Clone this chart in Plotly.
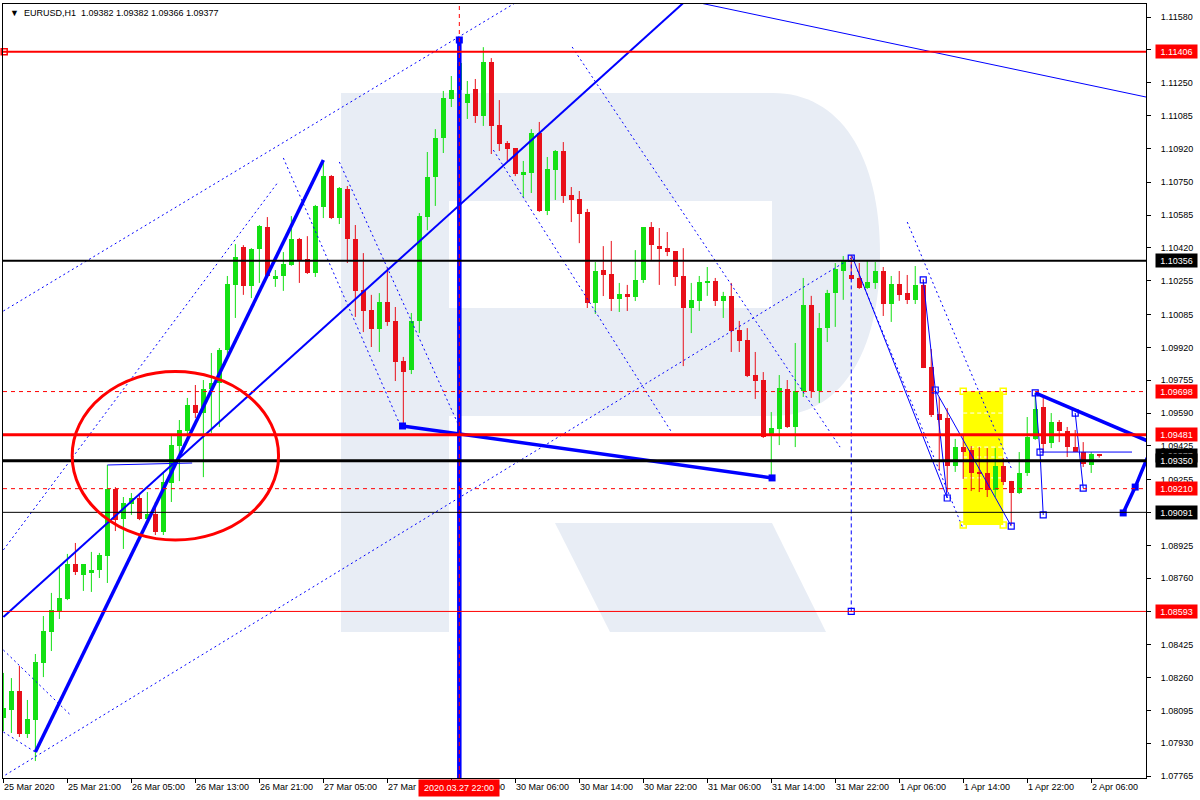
import plotly.graph_objects as go

# ---------------- data (EURUSD H1) ----------------
opens = [1.08057,1.08098,1.08193,1.07977,1.08047,1.08334,1.08490,1.08595,1.08655,1.08831,
         1.08776,1.08786,1.08801,1.08872,1.09208,1.09057,1.09133,1.09163,1.09057,1.09083,
         1.08992,1.09238,1.09424,1.09500,1.09630,1.09590,1.09711,1.09741,1.09907,1.10234,
         1.10424,1.10229,1.10414,1.10525,1.10264,1.10279,1.10334,1.10465,1.10364,1.10294,
         1.10626,1.10781,1.10570,1.10716,1.10465,1.10209,1.10108,1.10012,1.10148,1.10053,
         1.09852,1.09806,1.10053,1.10575,1.10776,1.10972,1.11168,1.11214,1.11148,1.11219,
         1.11083,1.11354,1.11038,1.10947,1.10922,1.10791,1.10796,1.10997,1.10606,1.10811,
         1.10907,1.10686,1.10666,1.10601,1.10143,1.10309,1.10289,1.10163,1.10188,1.10173,
         1.10259,1.10525,1.10429,1.10419,1.10404,1.10279,1.10118,1.10154,1.10244,1.10254,
         1.10154,1.10179,1.10007,1.09957,1.09781,1.09756,1.09485,1.09510,1.09711,1.09520,
         1.09701,1.10133,1.09701,1.10017,1.10194,1.10304,1.10284,1.10269,1.10219,1.10244,
         1.10304,1.10138,1.10239,1.10194,1.10159,1.10234,1.09822,1.09585,1.09565,1.09324,
         1.09419,1.09404,1.09294,1.09289,1.09203,1.09324,1.09249,1.09188,1.09289,1.09460,
         1.09620,1.09439,1.09545,1.09500,1.09419,1.09394,1.09329,1.09382]
highs = [1.08284,1.08258,1.08319,1.08148,1.08379,1.08570,1.08686,1.08816,1.08882,1.08937,
         1.08831,1.08892,1.08887,1.09329,1.09218,1.09168,1.09188,1.09178,1.09193,1.09143,
         1.09288,1.09479,1.09555,1.09666,1.09731,1.09756,1.09892,1.09917,1.10279,1.10439,
         1.10434,1.10419,1.10535,1.10575,1.10309,1.10399,1.10580,1.10470,1.10479,1.10636,
         1.10852,1.10786,1.10726,1.10731,1.10535,1.10394,1.10184,1.10193,1.10319,1.10123,
         1.09872,1.10093,1.10595,1.10902,1.11017,1.11209,1.11284,1.11465,1.11259,1.11269,
         1.11429,1.11374,1.11163,1.10957,1.10922,1.10857,1.11017,1.11053,1.10877,1.10912,
         1.10952,1.10726,1.10706,1.10616,1.10349,1.10429,1.10455,1.10244,1.10234,1.10409,
         1.10525,1.10550,1.10520,1.10500,1.10404,1.10419,1.10244,1.10279,1.10324,1.10269,
         1.10199,1.10244,1.10053,1.10017,1.09897,1.09796,1.09595,1.09781,1.09756,1.09942,
         1.10269,1.10179,1.10093,1.10209,1.10344,1.10379,1.10384,1.10344,1.10359,1.10349,
         1.10324,1.10279,1.10304,1.10284,1.10329,1.10264,1.09912,1.09671,1.09615,1.09460,
         1.09475,1.09424,1.09419,1.09414,1.09414,1.09364,1.09249,1.09394,1.09570,1.09691,
         1.09666,1.09590,1.09555,1.09520,1.09505,1.09444,1.09394,1.09382]
lows = [1.07992,1.07982,1.07962,1.07957,1.07841,1.08263,1.08394,1.08555,1.08650,1.08776,
        1.08696,1.08691,1.08761,1.08736,1.08997,1.08907,1.09078,1.09052,1.09052,1.08977,
        1.08977,1.09143,1.09248,1.09455,1.09565,1.09268,1.09490,1.09520,1.09882,1.10068,
        1.10184,1.10168,1.10244,1.10274,1.10224,1.10204,1.10330,1.10244,1.10289,1.10274,
        1.10570,1.10565,1.10540,1.10344,1.10073,1.09997,1.09922,1.09897,1.10028,1.09751,
        1.09520,1.09786,1.09992,1.10509,1.10631,1.10897,1.11128,1.11163,1.11068,1.11048,
        1.11033,1.10892,1.10907,1.10852,1.10781,1.10676,1.10696,1.10601,1.10585,1.10661,
        1.10646,1.10550,1.10444,1.10118,1.10088,1.10178,1.10103,1.10098,1.10103,1.10153,
        1.10244,1.10359,1.10234,1.10379,1.10229,1.09826,1.09992,1.10103,1.10179,1.10128,
        1.10068,1.09897,1.09897,1.09771,1.09661,1.09465,1.09254,1.09429,1.09515,1.09419,
        1.09671,1.09666,1.09641,1.09947,1.10023,1.10159,1.10259,1.10214,1.10214,1.10214,
        1.10078,1.10048,1.10154,1.10138,1.10138,1.09816,1.09570,1.09304,1.09193,1.09294,
        1.09259,1.09198,1.09193,1.09168,1.09168,1.09228,1.09027,1.09183,1.09274,1.09455,
        1.09389,1.09414,1.09444,1.09369,1.09394,1.09319,1.09289,1.09366]
closes = [1.08108,1.08193,1.07977,1.08052,1.08339,1.08495,1.08600,1.08660,1.08831,1.08791,
          1.08831,1.08801,1.08877,1.09208,1.09052,1.09138,1.09163,1.09057,1.09083,1.08992,
          1.09243,1.09429,1.09505,1.09630,1.09590,1.09711,1.09741,1.09907,1.10239,1.10374,
          1.10229,1.10414,1.10530,1.10279,1.10279,1.10339,1.10465,1.10359,1.10294,1.10631,
          1.10781,1.10570,1.10721,1.10465,1.10204,1.10103,1.10012,1.10148,1.10048,1.09847,
          1.09796,1.10053,1.10580,1.10776,1.10972,1.11173,1.11214,1.11349,1.11194,1.11083,
          1.11354,1.11033,1.10942,1.10917,1.10791,1.10801,1.10997,1.10606,1.10816,1.10907,
          1.10681,1.10661,1.10590,1.10143,1.10304,1.10284,1.10163,1.10188,1.10173,1.10259,
          1.10525,1.10434,1.10419,1.10399,1.10274,1.10118,1.10159,1.10249,1.10254,1.10154,
          1.10179,1.10002,1.09952,1.09776,1.09751,1.09470,1.09515,1.09716,1.09520,1.09701,
          1.10133,1.09701,1.10017,1.10194,1.10314,1.10354,1.10264,1.10219,1.10249,1.10304,
          1.10138,1.10239,1.10184,1.10159,1.10234,1.09817,1.09580,1.09555,1.09324,1.09419,
          1.09394,1.09289,1.09284,1.09203,1.09324,1.09243,1.09188,1.09289,1.09470,1.09610,
          1.09434,1.09545,1.09500,1.09419,1.09394,1.09334,1.09384,1.09377]

tick_idx = [0, 8, 16, 24, 32, 40, 48, 56, 64, 72, 80, 88, 96, 104, 112, 120, 128, 136]
tick_text = ["25 Mar 2020", "25 Mar 21:00", "26 Mar 05:00", "26 Mar 13:00", "26 Mar 21:00",
             "27 Mar 05:00", "27 Mar 13:00", "27 Mar 21:00", "30 Mar 06:00", "30 Mar 14:00",
             "30 Mar 22:00", "31 Mar 06:00", "31 Mar 14:00", "31 Mar 22:00", "1 Apr 06:00",
             "1 Apr 14:00", "1 Apr 22:00", "2 Apr 06:00"]
ytick_vals = [1.11580, 1.11415, 1.11250, 1.11085, 1.10920, 1.10750, 1.10585, 1.10420, 1.10255,
              1.10085, 1.09920, 1.09755, 1.09590, 1.09425, 1.09255, 1.09090, 1.08925, 1.08760,
              1.08595, 1.08425, 1.08260, 1.08095, 1.07930, 1.07765]

# horizontal levels: price, colour, width, dash
level_prices = [1.11406, 1.10356, 1.09698, 1.09481, 1.09350, 1.09210, 1.09091, 1.08593]
level_colors = ["#ff0000", "#000000", "#ff0000", "#ff0000", "#000000", "#ff0000", "#000000", "#ff0000"]
level_widths = [2, 2, 1, 3, 3, 1, 1, 1]
level_dashes = ["solid", "solid", "4px,4px", "solid", "solid", "4px,4px", "solid", "solid"]

tag_prices = [1.11406, 1.10356, 1.09698, 1.09481, 1.09377, 1.09350, 1.09210, 1.09091, 1.08593]
tag_colors = ["#ff0000", "#000000", "#ff0000", "#ff0000", "#000000", "#000000", "#ff0000", "#000000", "#ff0000"]

# drawing objects (bar index, price)
thick_lines = [([4.0, 40.0], [1.07886, 1.10862]),
               ([49.9, 96.1], [1.09525, 1.09264]),
               ([129.0, 143.4], [1.09691, 1.09444]),
               ([140.0, 141.5, 143.0, 143.6], [1.09088, 1.09218, 1.09364, 1.09254])]
medium_lines = [([0.0, 85.0], [1.08565, 1.11651])]
thin_lines = [([87.1, 142.9], [1.11651, 1.11178]),
              ([13.0, 23.6], [1.09329, 1.09339]),
              ([106.1, 118.0], [1.10379, 1.09163]),
              ([115.0, 116.5, 118.0], [1.10259, 1.09706, 1.09163]),
              ([116.5, 126.0], [1.09706, 1.09022]),
              ([129.0, 129.6, 130.0], [1.09691, 1.09394, 1.09078]),
              ([129.6, 141.1], [1.09394, 1.09394]),
              ([134.0, 135.0], [1.09590, 1.09213])]
dotted_lines = [([0.0, 64.6], [1.10103, 1.11666]),
                ([0.25, 106.0], [1.07771, 1.10369]),
                ([0.0, 34.25], [1.08902, 1.10746]),
                ([35.0, 49.6], [1.10872, 1.09530]),
                ([42.0, 56.9], [1.10852, 1.09530]),
                ([71.1, 104.6], [1.11430, 1.09419]),
                ([61.25, 83.6], [1.10912, 1.09490]),
                ([113.0, 126.1], [1.10550, 1.09304]),
                ([106.75, 119.9], [1.10309, 1.09017]),
                ([0.0, 8.4], [1.08399, 1.08072]),
                ([0.0, 4.0], [1.07987, 1.07886])]
open_sq_x = [106.0, 106.0, 115.0, 116.5, 118.0, 126.0, 129.0, 130.0, 134.0, 135.0, 129.6]
open_sq_y = [1.10369, 1.08593, 1.10259, 1.09706, 1.09163, 1.09022, 1.09691, 1.09078, 1.09590, 1.09213, 1.09394]
full_sq_x = [49.9, 57.0, 96.1, 140.0, 141.5, 143.0]
full_sq_y = [1.09525, 1.11465, 1.09264, 1.09088, 1.09218, 1.09364]
rect_x = [120.0, 125.0]
rect_y = [1.09027, 1.09700]
rect_inner_levels = [1.09590, 1.09419, 1.09369, 1.09264]
ellipse_x = [8.6, 34.4]
ellipse_y = [1.08952, 1.09799]
vline_idx = 57
vline_top = 1.11465
dvline_idx = 106
dvline_y = [1.08593, 1.10356]

title_text = "\u25BC\u00a0 EURUSD,H1\u00a0 1.09382 1.09382 1.09366 1.09377"

# ---------------- figure ----------------
GREEN = "#14e014"
RED = "#e8101a"
BLUE = "#0000ff"
FONT = "Liberation Sans"
X_RANGE = [-0.05, 142.85]
Y_RANGE = [1.077558, 1.116459]

n = len(opens)
idx = list(range(n))
fig = go.Figure()

# plot box in pixels: x 3..1146, y 4..778
def px(x):
    return (x - 3) / 1143.0

def py(y):
    return (778 - y) / 774.0

shapes = []
WM = "#e8edf5"
# watermark "R"
shapes.append(dict(type="rect", xref="paper", yref="paper", x0=px(341), x1=px(449), y0=py(632), y1=py(93),
                   fillcolor=WM, line=dict(width=0), layer="below"))
k = 0.62
bowl = (f"M {px(449)},{py(93)} L {px(773)},{py(93)} "
        f"C {px(773 + k*107)},{py(93)} {px(880)},{py(254.5 - k*161.5)} {px(880)},{py(254.5)} "
        f"C {px(880)},{py(254.5 + k*161.5)} {px(773 + k*107)},{py(416)} {px(773)},{py(416)} "
        f"L {px(449)},{py(416)} Z")
shapes.append(dict(type="path", xref="paper", yref="paper", path=bowl, fillcolor=WM,
                   line=dict(width=0), layer="below"))
shapes.append(dict(type="rect", xref="paper", yref="paper", x0=px(449), x1=px(772), y0=py(308), y1=py(201),
                   fillcolor="#ffffff", line=dict(width=0), layer="below"))
leg = f"M {px(555)},{py(523)} L {px(772)},{py(523)} L {px(826)},{py(632)} L {px(610)},{py(632)} Z"
shapes.append(dict(type="path", xref="paper", yref="paper", path=leg, fillcolor=WM,
                   line=dict(width=0), layer="below"))
# yellow rectangle
shapes.append(dict(type="rect", xref="x", yref="y", x0=rect_x[0], x1=rect_x[1], y0=rect_y[0], y1=rect_y[1],
                   fillcolor="#ffff00", line=dict(width=0), layer="below"))
for lv in rect_inner_levels:
    shapes.append(dict(type="line", xref="x", yref="y", x0=rect_x[0], x1=rect_x[1], y0=lv, y1=lv,
                       line=dict(color="#ffffff", width=1, dash="4px,3px"), layer="below"))

# wicks
for col, cond in ((GREEN, lambda i: closes[i] >= opens[i]), (RED, lambda i: closes[i] < opens[i])):
    xs, ys = [], []
    for i in idx:
        if cond(i):
            xs += [i, i, None]
            ys += [lows[i], highs[i], None]
    fig.add_trace(go.Scatter(x=xs, y=ys, mode="lines", line=dict(color=col, width=1),
                             hoverinfo="skip", showlegend=False))
# bodies
fig.add_trace(go.Bar(x=idx, y=[max(abs(c - o), 0.00003) for o, c in zip(opens, closes)],
                     base=[min(o, c) for o, c in zip(opens, closes)], width=0.62,
                     marker=dict(color=[GREEN if c >= o else RED for o, c in zip(opens, closes)],
                                 line=dict(width=0)),
                     hoverinfo="skip", showlegend=False))

def add_lines(lst, width, dash="solid"):
    for xs, ys in lst:
        fig.add_trace(go.Scatter(x=xs, y=ys, mode="lines", line=dict(color=BLUE, width=width, dash=dash),
                                 hoverinfo="skip", showlegend=False))

add_lines(dotted_lines, 1, "2px,3px")
add_lines(thin_lines, 1)
add_lines(medium_lines, 2)
add_lines(thick_lines, 3.5)

# vertical lines
fig.add_trace(go.Scatter(x=[dvline_idx, dvline_idx], y=dvline_y, mode="lines",
                         line=dict(color=BLUE, width=1, dash="4px,3px"), hoverinfo="skip", showlegend=False))
fig.add_trace(go.Scatter(x=[vline_idx, vline_idx], y=[Y_RANGE[0], vline_top], mode="lines",
                         line=dict(color=BLUE, width=4.5), hoverinfo="skip", showlegend=False))
shapes.append(dict(type="line", xref="x", yref="paper", x0=vline_idx, x1=vline_idx, y0=0, y1=1,
                   line=dict(color="#ff0000", width=1, dash="4px,4px"), layer="above"))

# markers
fig.add_trace(go.Scatter(x=open_sq_x, y=open_sq_y, mode="markers",
                         marker=dict(symbol="square-open", size=6, color=BLUE, line=dict(width=1.2)),
                         hoverinfo="skip", showlegend=False))
fig.add_trace(go.Scatter(x=full_sq_x, y=full_sq_y, mode="markers",
                         marker=dict(symbol="square", size=7, color=BLUE),
                         hoverinfo="skip", showlegend=False))
fig.add_trace(go.Scatter(x=[rect_x[0], rect_x[1], rect_x[0], rect_x[1]],
                         y=[rect_y[0], rect_y[0], rect_y[1], rect_y[1]], mode="markers",
                         marker=dict(symbol="square-open", size=6, color="#ffff00", line=dict(width=1.5)),
                         hoverinfo="skip", showlegend=False))

# horizontal levels
for p, c, w, d in zip(level_prices, level_colors, level_widths, level_dashes):
    shapes.append(dict(type="line", xref="paper", yref="y", x0=0, x1=1, y0=p, y1=p,
                       line=dict(color=c, width=w, dash=d), layer="above"))
fig.add_trace(go.Scatter(x=[0.1], y=[level_prices[0]], mode="markers",
                         marker=dict(symbol="square-open", size=6, color="#ff0000", line=dict(width=1.5)),
                         hoverinfo="skip", showlegend=False, cliponaxis=False))

# ellipse
shapes.append(dict(type="circle", xref="x", yref="y", x0=ellipse_x[0], x1=ellipse_x[1],
                   y0=ellipse_y[0], y1=ellipse_y[1], line=dict(color="#ff0000", width=3), layer="above"))

annotations = []
for t, s in zip(tick_idx, tick_text):
    annotations.append(dict(x=t, xref="x", y=0, yref="paper", xanchor="left", yanchor="top", yshift=-3,
                            text=s, showarrow=False, font=dict(family=FONT, size=9, color="#000000"),
                            borderpad=0))
annotations.append(dict(x=vline_idx, xref="x", y=0, yref="paper", xanchor="center", yanchor="top", yshift=-1,
                        text="2020.03.27 22:00", showarrow=False, bgcolor="#ff0000",
                        font=dict(family=FONT, size=9, color="#ffffff"), width=78, height=14, borderpad=1))
for p, c in zip(tag_prices, tag_colors):
    annotations.append(dict(x=1, xref="paper", y=p, yref="y", xanchor="left", yanchor="middle", xshift=9,
                            text=f"{p:.5f}", showarrow=False, bgcolor=c, width=39, height=11, borderpad=1,
                            font=dict(family=FONT, size=9, color="#ffffff")))
annotations.append(dict(x=0, xref="paper", y=1, yref="paper", xanchor="left", yanchor="top", xshift=5, yshift=-2,
                        text=title_text, showarrow=False, font=dict(family=FONT, size=9, color="#000000")))

fig.update_layout(
    width=1200, height=800, margin=dict(l=3, r=54, t=4, b=22),
    paper_bgcolor="#ffffff", plot_bgcolor="#ffffff", showlegend=False,
    barmode="overlay", bargap=0, shapes=shapes, annotations=annotations,
    xaxis=dict(range=X_RANGE, showgrid=False, zeroline=False, showline=True, mirror=True,
               linecolor="#000000", linewidth=1, tickvals=tick_idx, ticks="outside", ticklen=4,
               tickcolor="#000000", showticklabels=False, fixedrange=True),
    yaxis=dict(range=Y_RANGE, side="right", showgrid=False, zeroline=False, showline=True, mirror=True,
               linecolor="#000000", linewidth=1, tickvals=ytick_vals,
               ticktext=[f"{v:.5f}" for v in ytick_vals], ticks="outside", ticklen=4, tickcolor="#000000",
               ticklabelstandoff=8, tickfont=dict(family=FONT, size=9, color="#000000"), fixedrange=True),
)
fig.write_html("out.html", config={"displayModeBar": False},
               post_script="document.body.style.margin='0';document.body.style.overflow='hidden';")
